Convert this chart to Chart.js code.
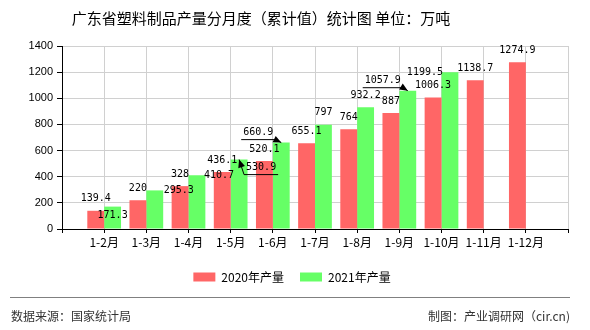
<!DOCTYPE html>
<html>
<head>
<meta charset="utf-8">
<script src="https://cdn.jsdelivr.net/npm/chart.js@4.4.0/dist/chart.umd.min.js"></script>
<style>
  body { margin: 0; background: #fff; }
  #wrap { position: relative; width: 590px; height: 330px; overflow: hidden; }
  #chart_canvas { position: absolute; left: 0; top: 0; }
  #title { position: absolute; left: 0; width: 522px; top: 7px; text-align: center;
    font: 15px "Noto Sans CJK SC", sans-serif; color: #000; white-space: nowrap; }
  #footer_line { position: absolute; left: 10px; width: 560px; top: 297px; height: 0; border-top: 1px solid #808080; }
  .footer { position: absolute; top: 307px; font: 12px "Noto Sans CJK SC", sans-serif; color: #333; white-space: nowrap; }
  #src { left: 11px; }
  #made { right: 20px; }
</style>
</head>
<body>
<div id="wrap">
  <canvas id="chart_canvas" width="590" height="330"></canvas>
  <div id="title">广东省塑料制品产量分月度（累计值）统计图 单位：万吨</div>
  <div id="footer_line"></div>
  <div class="footer" id="src">数据来源：国家统计局</div>
  <div class="footer" id="made">制图：产业调研网（cir.cn)</div>
</div>
<script>
const months = ["1-2月", "1-3月", "1-4月", "1-5月", "1-6月", "1-7月", "1-8月", "1-9月", "1-10月", "1-11月", "1-12月"];
const output_2020 = [139.4, 220, 328, 436.1, 520.1, 655.1, 764, 887, 1006.3, 1138.7, 1274.9];
const output_2021 = [171.3, 295.3, 410.7, 530.9, 660.9, 797, 932.2, 1057.9, 1199.5];
const y_ticks = [0, 200, 400, 600, 800, 1000, 1200, 1400];

// label nudges (dx, dy) for the 2021 series, as placed in the original picture
const shift_2021 = [[0, 21], [24, 12], [22, 12], [22, 20], [-23, 2], [0, 0], [0, 0], [-25, 2], [-25, 12]];
const leader_2021 = [false, false, false, true, true, false, false, true, false];

// blank slot at both ends, bars sit on the grid lines
const labels = [""].concat(months, [""]);
function pad(arr) {
  const out = [null].concat(arr);
  while (out.length < labels.length) out.push(null);
  return out;
}

const valueLabels = {
  id: "valueLabels",
  afterDatasetsDraw(chart) {
    const ctx = chart.ctx;
    ctx.save();
    ctx.font = '10px "DejaVu Sans Mono", monospace';
    ctx.textAlign = "center";
    ctx.textBaseline = "middle";
    ctx.fillStyle = "#000";
    ctx.strokeStyle = "#000";
    chart.data.datasets.forEach(function(ds, di) {
      const meta = chart.getDatasetMeta(di);
      meta.data.forEach(function(bar, i) {
        const v = ds.data[i];
        if (v === null || v === undefined) return;
        let dx = 0, dy = 0, lead = false;
        if (di === 1) {
          dx = shift_2021[i - 1][0];
          dy = shift_2021[i - 1][1];
          lead = leader_2021[i - 1];
        }
        const tx = bar.x + dx;
        const ty = bar.y - 12 + dy;
        ctx.fillText(String(v), tx, ty);
        if (lead) {
          const w = ctx.measureText(String(v)).width;
          const uy = ty + 7;
          const far = dx > 0 ? tx + w / 2 + 2 : tx - w / 2 - 2;
          const near = dx > 0 ? tx - w / 2 - 2 : tx + w / 2 + 2;
          ctx.lineWidth = 1;
          ctx.beginPath();
          ctx.moveTo(far, uy);
          ctx.lineTo(near, uy);
          ctx.lineTo(bar.x, bar.y);
          ctx.stroke();
          const ang = Math.atan2(bar.y - uy, bar.x - near);
          ctx.beginPath();
          ctx.moveTo(bar.x, bar.y);
          ctx.lineTo(bar.x - 8 * Math.cos(ang) + 3.5 * Math.sin(ang), bar.y - 8 * Math.sin(ang) - 3.5 * Math.cos(ang));
          ctx.lineTo(bar.x - 8 * Math.cos(ang) - 3.5 * Math.sin(ang), bar.y - 8 * Math.sin(ang) + 3.5 * Math.cos(ang));
          ctx.closePath();
          ctx.fill();
        }
      });
    });
    ctx.restore();
  }
};

new Chart("chart_canvas", {
  type: "bar",
  data: {
    labels: labels,
    datasets: [{
      label: "2020年产量",
      data: pad(output_2020),
      backgroundColor: "#ff6666",
      borderWidth: 0
    }, {
      label: "2021年产量",
      data: pad(output_2021),
      backgroundColor: "#66ff66",
      borderWidth: 0
    }]
  },
  options: {
    responsive: false,
    animation: false,
    events: [],
    layout: { padding: { top: 46, right: 22, left: 16, bottom: 37 } },
    datasets: { bar: { categoryPercentage: 0.8, barPercentage: 1.0 } },
    plugins: {
      title: { display: false },
      tooltip: { enabled: false },
      legend: {
        position: "bottom",
        labels: {
          boxWidth: 22,
          boxHeight: 9,
          padding: 16,
          color: "#000",
          font: { family: '"Noto Sans CJK SC", sans-serif', size: 12 }
        }
      }
    },
    scales: {
      x: {
        offset: false,
        grid: { offset: false, color: "#d0d0d0", tickColor: "#000", tickLength: 4 },
        border: { color: "#000" },
        ticks: {
          autoSkip: false, maxRotation: 0, padding: 2, color: "#000",
          font: { family: '"Noto Sans CJK SC", sans-serif', size: 12 }
        },
        afterFit: function(s) { s.height = 26; }
      },
      y: {
        min: 0,
        max: 1400,
        afterBuildTicks: function(s) { s.ticks = y_ticks.map(v => ({ value: v })); },
        grid: { color: "#d0d0d0", tickColor: "#000", tickLength: 5 },
        border: { color: "#000" },
        ticks: {
          padding: 4, color: "#000",
          font: { family: '"Liberation Sans", sans-serif', size: 11 },
          callback: function(v) { return String(v); }
        },
        afterFit: function(s) { s.width = 46; }
      }
    }
  },
  plugins: [valueLabels]
});
</script>
</body>
</html>
